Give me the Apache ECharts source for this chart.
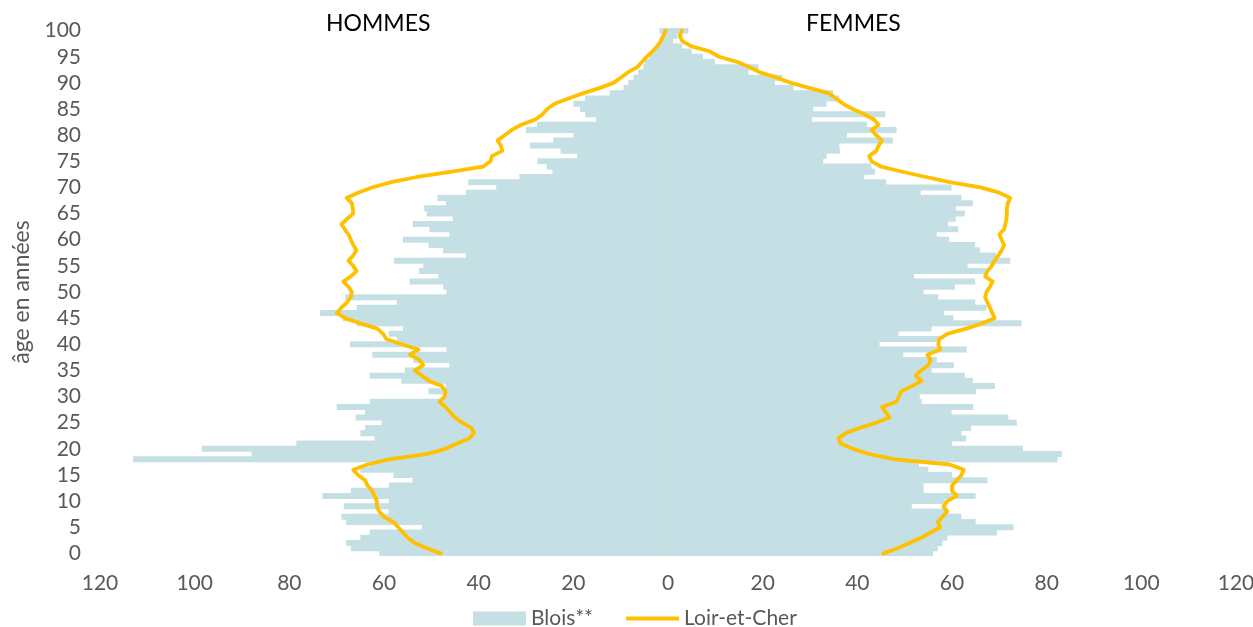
<!DOCTYPE html>
<html>
<head>
<meta charset="utf-8">
<script src="https://cdn.jsdelivr.net/npm/echarts@6/dist/echarts.min.js"></script>
<style>
  html, body { margin: 0; padding: 0; background: #fff; }
  #chart { width: 1253px; height: 627px; }
</style>
</head>
<body>
<div id="chart"></div>
<script>
// ages 0..100
var ages = []
for (var a = 0; a <= 100; a++) ages.push(String(a))

// Blois** (bars) - hommes, age 0 -> 100
var hommesBlois = [
  61, 67, 68, 65, 63, 52, 68, 69, 59, 68.5,
  59, 73, 67, 59, 54, 58, 65, 63, 113, 88,
  98.5, 78.5, 62, 65, 64, 60.5, 66, 64, 70, 63,
  47, 50.6, 47, 56.3, 63, 55.6, 46.2, 53.8, 62.5, 46.8,
  67.2, 57.3, 59, 56, 65.8, 68.7, 73.5, 65.8, 57.3, 68.2,
  46.8, 47.5, 54.6, 48.5, 52.6, 51.7, 57.9, 42.7, 47.5, 50.6,
  56, 46.2, 50.4, 53.9, 45.5, 51, 51.5, 46.9, 48.7, 42.7,
  36.3, 42.2, 31.4, 24.4, 25.6, 27.6, 19.2, 22.7, 29.2, 24.2,
  20, 30, 27.7, 15.2, 17.5, 18.6, 20, 17.5, 12.3, 9.4,
  8.4, 7.3, 6.3, 5.2, 4.9, 3.9, 3, 2.5, 1.8, 1, 1.8
]
// Blois** (bars) - femmes
var femmesBlois = [
  56, 57, 58, 59, 69.5, 73, 65, 62, 59, 51.5,
  58.5, 65, 54, 54, 67.5, 60, 55, 53, 82.3, 83.2,
  75, 60, 63, 62, 64, 73.7, 71.9, 59.9, 64.5, 53.6,
  53.2, 65.1, 69.1, 64.4, 62.7, 55.7, 60.4, 56.8, 49.7, 63.1,
  44.7, 57.5, 48.7, 55.7, 74.7, 60.3, 58.3, 67.3, 64.9, 57.1,
  54, 60.6, 64.9, 52, 67.3, 63.3, 72.3, 69.3, 65.9, 64.9,
  59.4, 56.8, 61.3, 59.2, 60.8, 62.7, 60.8, 64.4, 62, 53.4,
  59.9, 46.1, 41.4, 43.7, 43, 32.8, 33.5, 36.3, 36.2, 47.5,
  37.8, 48.3, 42, 30.4, 45.9, 30.7, 33.5, 36.2, 34.9, 26.5,
  22.6, 24.2, 17, 19.1, 9.9, 7.4, 5, 3, 1.1, 2, 4.3
]
// Loir-et-Cher (line) - hommes
var hommesDept = [
  48, 51, 53.5, 55, 56, 57, 58, 60, 61, 61.5,
  61.5, 62, 62.5, 63.5, 64, 65.5, 66.5, 63.5, 59, 51,
  47, 44.5, 42, 41, 41.5, 43.5, 45, 46, 47, 48.3,
  47.2, 47, 47.8, 50.5, 52, 53.5, 51.7, 52.5, 54.5, 52.7,
  56.3, 59.5, 60.2, 61.4, 65, 68.2, 70, 69, 67.8, 67,
  66.8, 67.5, 68.6, 67, 65.8, 66.5, 67.5, 66.5, 65.8, 66.5,
  67, 67.5, 68.3, 69, 67.8, 66.5, 66.6, 66.8, 67.9, 65.5,
  62.5, 58.5, 53, 46, 39, 37.5, 37.2, 35, 35.3, 36,
  34.5, 33, 31, 28, 26.5, 25.5, 24, 21, 18, 14.5,
  11.5, 10, 8.5, 6.5, 5.5, 4.5, 3.3, 2.3, 1.5, 1, 0.5
]
// Loir-et-Cher (line) - femmes
var femmesDept = [
  45.5, 48.5, 51, 53.5, 55.5, 57.5, 57, 58, 59, 58.2,
  59, 61, 60, 60, 61, 62, 62.5, 59.5, 48, 42.5,
  39, 36.5, 36, 37.5, 40.5, 44, 46.8, 46, 45.2, 48.2,
  48.8, 49.3, 51.5, 53.6, 52.3, 53.5, 55, 55.5, 54.8, 57.5,
  57.1, 57.3, 59, 63, 66.4, 69, 68.5, 68, 67.5, 67,
  67.3, 68, 68.6, 67, 67.5, 68.4, 69, 69.8, 70.5, 71,
  70.5, 70, 71, 71.3, 71.5, 71.6, 71.6, 71.8, 72.3, 70,
  66, 59.5, 54.5, 49.5, 45, 43, 42.5, 44, 44.5, 45.2,
  44, 43, 44.5, 43.5, 41.5, 39, 37, 35.5, 34, 30,
  26, 23, 19.4, 17.3, 14.7, 10.8, 8.9, 5, 3, 2.5, 2.9
]

var FONT = 'Lato'
var GREY = '#595959'
var BAR = '#c5e0e4'
var GOLD = '#ffc000'

function neg(arr){
  return arr.map(function(v){ return -v })
}

var chart = echarts.init(document.getElementById('chart'))
chart.setOption({
  animation: false,
  textStyle: { fontFamily: FONT },
  grid: {
    left: 100,
    right: 17,
    top: 28,
    bottom: 71,
    outerBoundsMode: 'none'
  },
  legend: {
    left: 473,
    top: 608,
    padding: 0,
    itemWidth: 53,
    itemHeight: 14,
    itemGap: 33,
    textStyle: { color: GREY, fontSize: 21, fontFamily: FONT },
    data: [
      { name: 'Blois**', icon: 'rect' },
      { name: 'Loir-et-Cher', icon: 'path://M0,0 L53,0 L53,4 L0,4 Z' }
    ]
  },
  xAxis: {
    type: 'value',
    min: -120,
    max: 120,
    interval: 20,
    splitLine: { show: false },
    axisLine: { show: false },
    axisTick: { show: false },
    axisLabel: {
      color: GREY,
      fontSize: 21,
      margin: 17,
      formatter: function(v){ return Math.abs(v) }
    }
  },
  yAxis: {
    type: 'category',
    data: ages,
    name: 'âge en années',
    nameLocation: 'middle',
    nameGap: 66,
    nameTextStyle: { color: GREY, fontSize: 23, fontFamily: FONT },
    axisLine: { show: false },
    axisTick: { show: false },
    axisLabel: {
      color: GREY,
      fontSize: 21,
      margin: 19,
      interval: 4
    }
  },
  graphic: [
    {
      type: 'text',
      left: 326,
      top: 12,
      style: { text: 'HOMMES', fill: '#000', font: '23px Lato' }
    },
    {
      type: 'text',
      left: 806,
      top: 12,
      style: { text: 'FEMMES', fill: '#000', font: '23px Lato' }
    }
  ],
  series: [
    {
      name: 'Blois**',
      type: 'bar',
      stack: 'pyramide',
      barWidth: 6,
      itemStyle: { color: BAR },
      data: neg(hommesBlois)
    },
    {
      name: 'Blois**',
      type: 'bar',
      stack: 'pyramide',
      barWidth: 6,
      itemStyle: { color: BAR },
      data: femmesBlois,
      markLine: {
        silent: true,
        symbol: 'none',
        label: { show: false },
        lineStyle: { color: '#d9d9d9', width: 1, type: 'solid' },
        data: [{ xAxis: 0 }]
      }
    },
    {
      name: 'Loir-et-Cher',
      type: 'line',
      symbol: 'none',
      z: 5,
      lineStyle: { color: GOLD, width: 3.8, cap: 'round', join: 'round' },
      itemStyle: { color: GOLD },
      data: neg(hommesDept)
    },
    {
      name: 'Loir-et-Cher',
      type: 'line',
      symbol: 'none',
      z: 5,
      lineStyle: { color: GOLD, width: 3.8, cap: 'round', join: 'round' },
      itemStyle: { color: GOLD },
      data: femmesDept
    }
  ]
})
</script>
</body>
</html>
